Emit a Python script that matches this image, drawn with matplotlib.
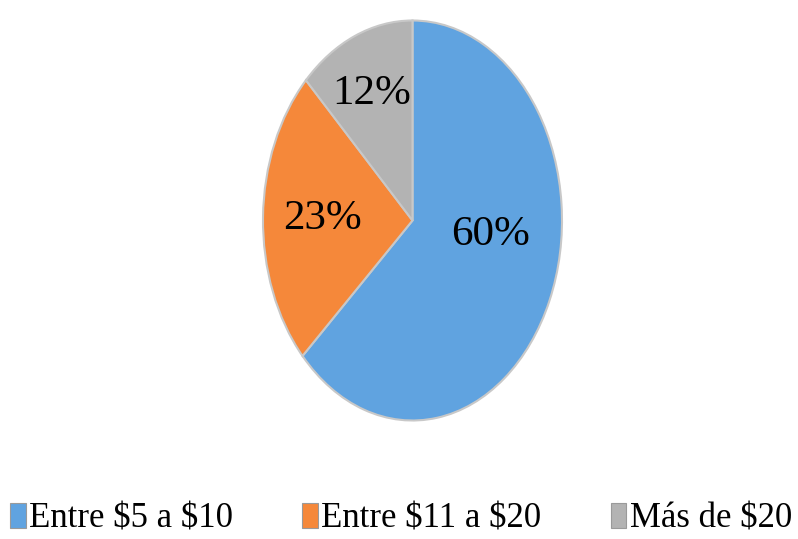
import matplotlib.pyplot as plt
from matplotlib.patches import Rectangle

labels = ["Entre \\$5 a \\$10", "Entre \\$11 a \\$20", "Más de \\$20"]
values = [60, 23, 12]
colors = ["#60a3e0", "#f5883a", "#b3b3b3"]

plt.rcParams['font.family'] = ['Liberation Serif', 'DejaVu Serif']

fig = plt.figure(figsize=(7.98, 5.39), dpi=100)
# pie is drawn stretched vertically, as in the original
ax = fig.add_axes([261.5/798, 1 - 422.5/539, 302/798, 404/539])
wedges, texts, autotexts = ax.pie(values, colors=colors, startangle=90, counterclock=False,
                                  autopct=lambda p: "%d%%" % round(p * sum(values) / 100),
                                  pctdistance=0.6,
                                  wedgeprops=dict(edgecolor="#c8c8c8", linewidth=1.5),
                                  textprops=dict(fontsize=31, color="black"))
ax.set_aspect('auto')
ax.set_xlim(-1.01, 1.01)
ax.set_ylim(-1.01, 1.01)

# nudge labels to where they sit in the original
x, y = autotexts[0].get_position()
autotexts[0].set_position((x - 0.03, y + 0.17))
x, y = autotexts[2].get_position()
autotexts[2].set_position((x - 0.04, y + 0.08))

handles = [Rectangle((0, 0), 1, 1, facecolor=c, edgecolor="#9a9a9a", linewidth=0.8) for c in colors]
fig.legend(handles, labels, ncol=3, mode="expand", loc="center",
           bbox_to_anchor=(10/798, 1 - 534/539, 782/798, 30/539),
           frameon=False, fontsize=25, handlelength=0.45, handleheight=0.75,
           handletextpad=0.1, borderaxespad=0, borderpad=0)

fig.savefig("out.png", dpi=100)
